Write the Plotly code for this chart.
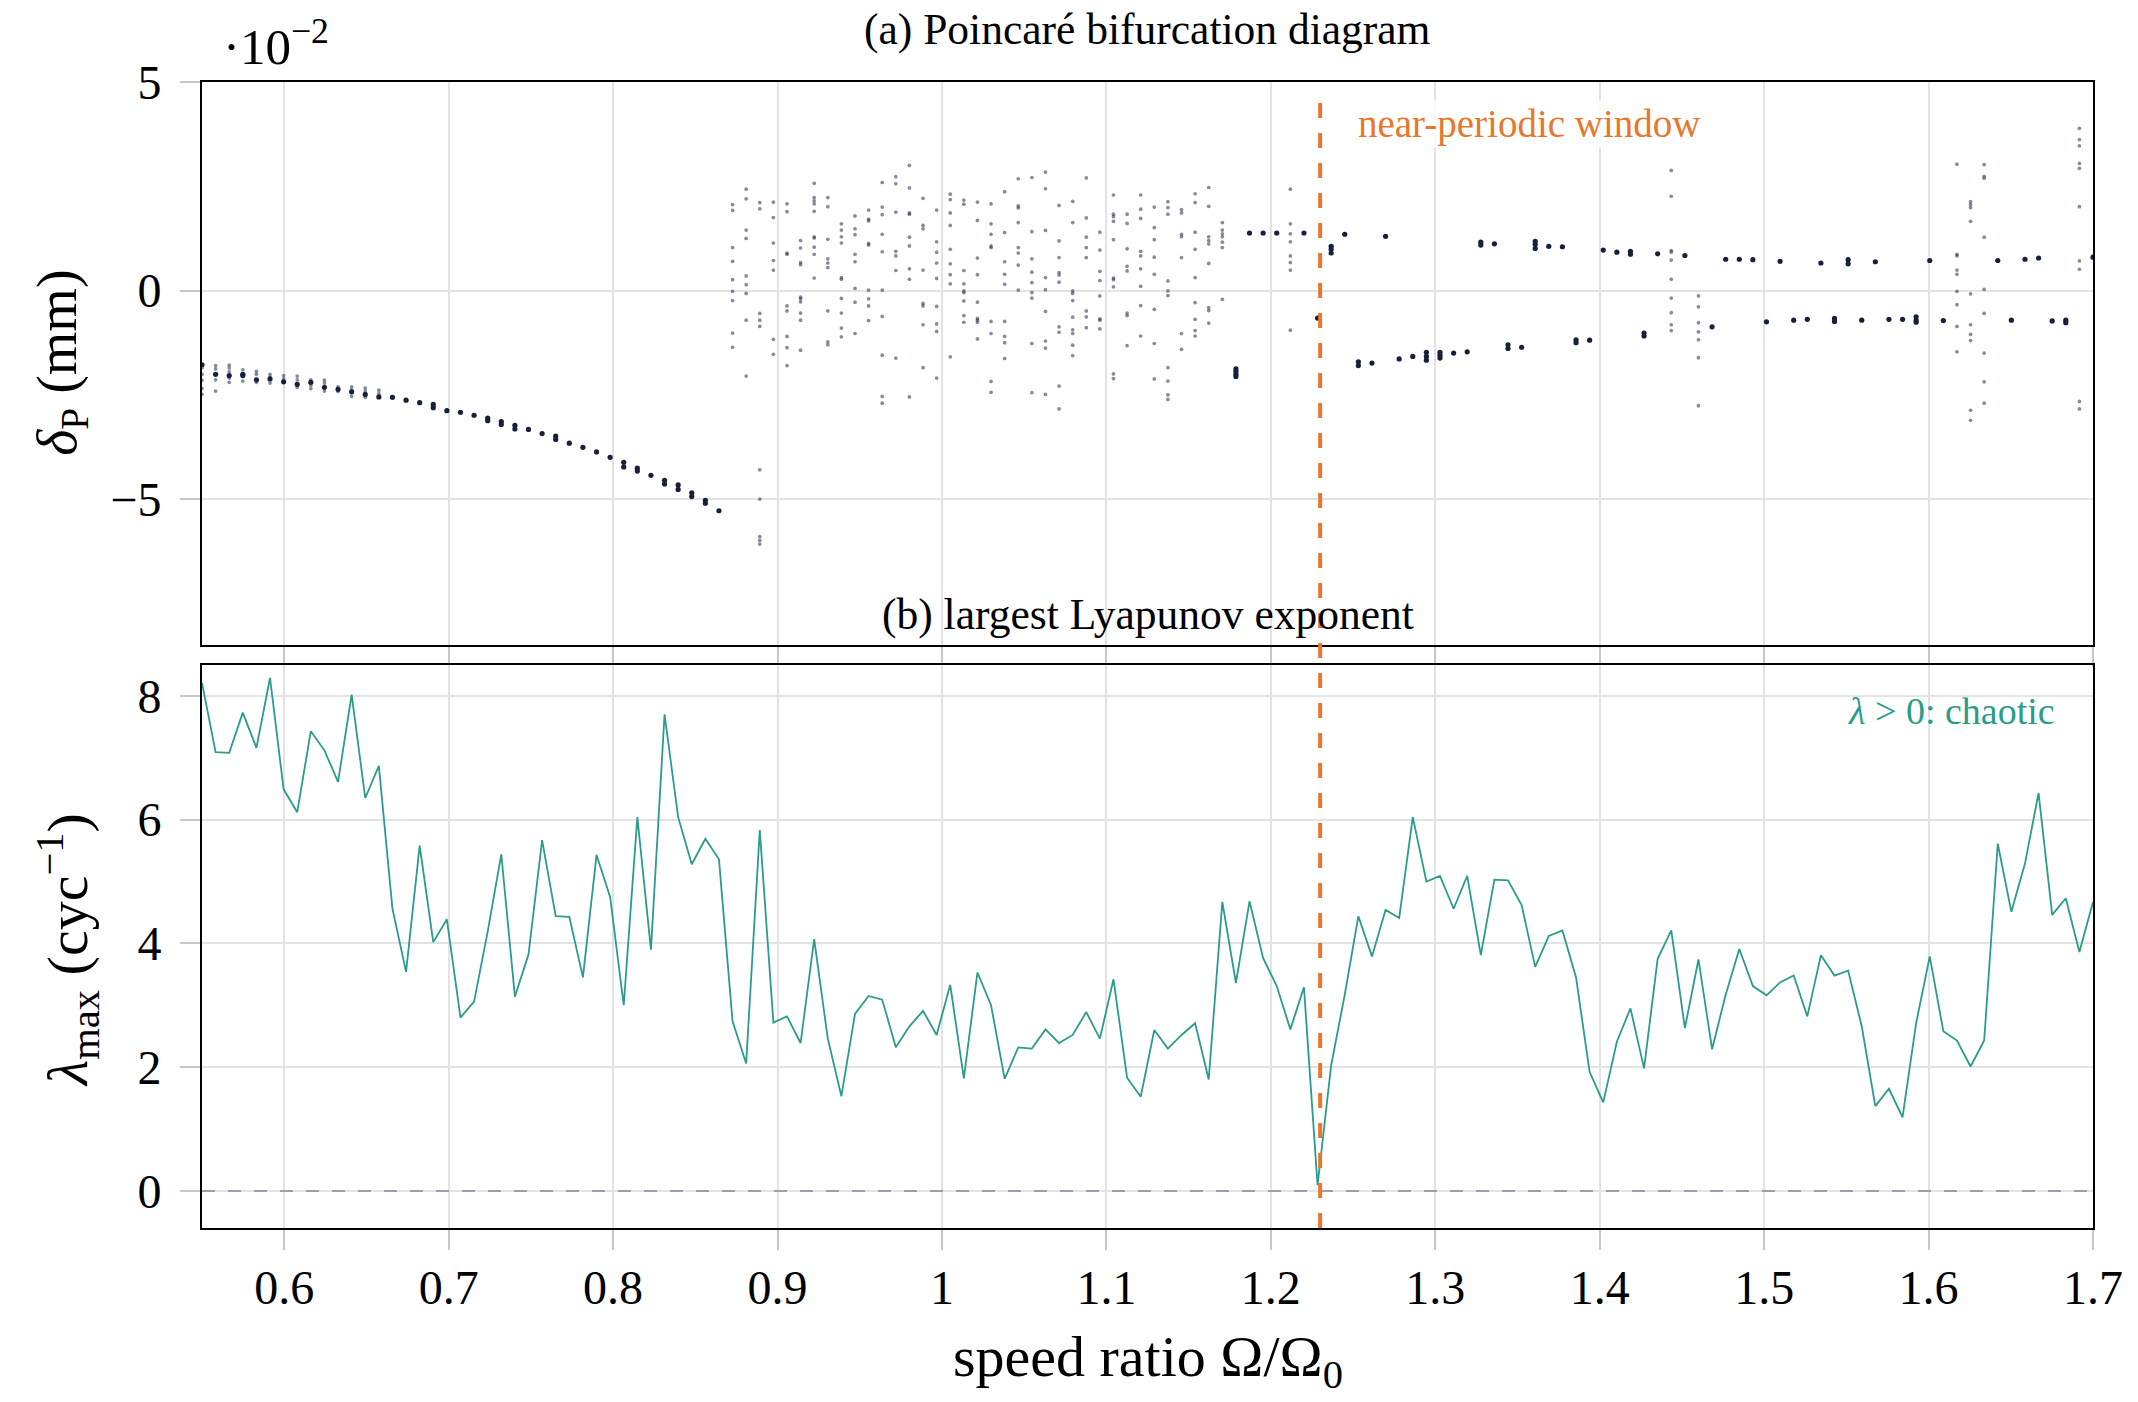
import numpy as np
import plotly.graph_objects as go

# ---------------- data ----------------
# speed-ratio sweep (140 samples from 0.55 to 1.70)
speed_ratio = np.linspace(0.55, 1.70, 140)

# largest Lyapunov exponent (cyc^-1) at each sweep sample
lyap_max = [
    8.21, 7.09, 7.08, 7.73, 7.16, 8.29, 6.49, 6.12, 7.43, 7.12,
    6.61, 8.02, 6.35, 6.87, 4.56, 3.54, 5.58, 4.02, 4.39, 2.80,
    3.06, 4.19, 5.44, 3.14, 3.82, 5.67, 4.44, 4.43, 3.45, 5.43,
    4.75, 3.00, 6.04, 3.90, 7.70, 6.04, 5.28, 5.69, 5.36, 2.74,
    2.06, 5.83, 2.72, 2.82, 2.39, 4.07, 2.46, 1.53, 2.86, 3.15,
    3.09, 2.32, 2.66, 2.91, 2.52, 3.33, 1.82, 3.53, 3.00, 1.81,
    2.32, 2.30, 2.61, 2.39, 2.52, 2.89, 2.46, 3.42, 1.83, 1.52,
    2.60, 2.30, 2.52, 2.71, 1.80, 4.67, 3.36, 4.68, 3.76, 3.31,
    2.61, 3.29, 0.09, 2.03, 3.17, 4.44, 3.79, 4.54, 4.41, 6.04,
    5.00, 5.09, 4.56, 5.09, 3.81, 5.03, 5.02, 4.62, 3.62, 4.12,
    4.21, 3.45, 1.92, 1.43, 2.41, 2.95, 1.98, 3.75, 4.21, 2.63,
    3.74, 2.29, 3.17, 3.91, 3.31, 3.16, 3.37, 3.48, 2.82, 3.81,
    3.48, 3.56, 2.66, 1.37, 1.65, 1.19, 2.71, 3.79, 2.58, 2.43,
    2.01, 2.43, 5.61, 4.51, 5.29, 6.43, 4.46, 4.73, 3.86, 4.67,
]

# Poincaré returns (units of 1e-2 mm): scattered (single) returns, by sweep index
scatter_cols = list(range(0, 14)) + list(range(39, 76)) + [80, 108, 110, 129, 130, 131, 138]
scatter_vals = [
    [-1.85, -2.01, -2.15, -2.35, -2.49],
    [-1.80, -1.88, -2.14, -2.41],
    [-1.79, -1.86, -1.95, -2.10, -2.20],
    [-1.90, -2.17],
    [-1.94, -2.01, -2.20],
    [-2.01, -2.08, -2.22],
    [-2.04, -2.12],
    [-2.05, -2.14, -2.32],
    [-2.14, -2.27, -2.35],
    [-2.15, -2.22, -2.41],
    [-2.31, -2.42],
    [-2.31, -2.38, -2.54],
    [-2.34, -2.41, -2.56],
    [-2.39, -2.47],
    # 39 .. 75
    [2.06, 1.92, 1.03, 0.70, 0.26, -0.02, -0.24, -1.02, -1.36],
    [2.43, 2.20, 1.45, 1.25, 0.35, 0.14, -0.07, -0.71, -2.05],
    [2.11, 1.96, -0.55, -0.71, -0.86, -4.30, -5.00, -5.90, -5.99, -6.08],
    [2.12, 1.75, 1.14, 0.72, 0.49, -1.17, -1.53],
    [2.08, 1.89, 0.90, 0.87, -0.37, -0.49, -1.10, -1.37, -1.80],
    [1.20, 1.02, 0.67, 0.62, -0.16, -0.20, -0.27, -0.54, -0.71, -1.43],
    [2.57, 2.23, 2.15, 2.08, 1.90, 1.29, 1.26, 1.04, 0.87, 0.30],
    [2.23, 2.01, 1.23, 0.76, 0.66, 0.55, -0.49, -1.23, -1.30],
    [1.60, 1.45, 1.29, 1.14, 0.31, 0.27, -0.19, -0.54, -0.90, -1.11],
    [1.79, 1.48, 1.34, 0.87, 0.69, 0.05, -0.28, -1.03],
    [1.93, 1.71, 1.67, 1.13, 1.09, 0.01, -0.20, -0.37, -0.72],
    [2.59, 2.00, 1.82, 1.35, 0.93, 0.01, -0.62, -1.55, -2.54, -2.70],
    [2.73, 2.56, 1.88, 0.94, 0.83, 0.48, -1.62],
    [3.00, 2.46, 1.86, 1.83, 1.28, 1.07, 0.52, 0.27, -2.55],
    [2.21, 1.56, 1.48, 0.49, -0.31, -0.37, -0.82, -1.85],
    [1.93, 1.17, 0.92, 0.66, 0.29, -0.38, -0.80, -0.98, -2.10],
    [2.31, 2.18, 1.86, 1.56, 0.99, 0.64, 0.38, 0.16, -1.59],
    [2.17, 2.07, 0.48, 0.16, -0.01, -0.05, -0.25, -0.60, -0.76],
    [2.12, 1.68, 0.78, 0.38, -0.28, -0.67, -0.71, -0.76, -1.16],
    [2.08, 1.60, 1.35, 1.07, 1.03, -0.74, -1.03, -2.18, -2.44],
    [2.37, 1.39, 0.69, 0.39, 0.15, -0.74, -1.10, -1.25, -1.63],
    [2.68, 2.03, 1.98, 1.63, 1.03, 0.90, 0.61, 0.01],
    [2.71, 1.41, 0.76, 0.44, 0.19, -0.05, -0.18, -1.27, -2.45],
    [2.84, 2.44, 1.44, 0.31, 0.02, -0.50, -1.21, -1.38, -2.49],
    [2.04, 1.19, 0.79, 0.43, 0.37, 0.20, -0.87, -1.00, -2.29, -2.84],
    [2.14, 1.63, -0.01, -0.07, -0.24, -0.64, -0.94, -1.03, -1.31, -1.56],
    [2.70, 1.74, 1.28, 1.03, 0.79, -0.49, -0.63, -0.89],
    [1.40, 0.97, 0.46, 0.24, -0.13, -0.68, -0.71, -0.92],
    [2.29, 1.83, 1.77, 1.66, 1.22, 0.30, 0.26, 0.09, -2.00, -2.11],
    [1.83, 1.61, 1.00, 0.58, 0.47, -0.54, -0.60, -1.32],
    [2.29, 1.95, 1.73, 0.94, 0.83, 0.52, 0.10, -0.36, -1.09],
    [2.00, 1.51, 1.22, 0.80, 0.39, -0.45, -1.27, -2.12],
    [2.13, 1.99, 1.83, 0.23, -0.01, -0.12, -1.85, -2.17, -2.50, -2.61],
    [1.94, 1.86, 1.35, 1.29, 0.79, -1.03, -1.41],
    [2.32, 2.11, 1.40, 0.99, 0.31, -0.29, -0.69, -0.96, -1.09],
    [2.47, 2.02, 1.29, 1.20, 1.12, 0.65, -0.41, -0.48, -0.78],
    [1.63, 1.45, 1.36, 1.29, 1.16, 1.03, -0.21],
    # 80, 108, 110, 129, 130, 131, 138
    [2.43, 1.60, 1.36, 1.17, 0.83, 0.67, 0.49, -0.95],
    [2.88, 2.26, 0.96, 0.92, 0.73, 0.27, -0.18, -0.53, -0.82, -0.96],
    [-0.13, -0.39, -0.77, -0.99, -1.18, -1.61, -2.76],
    [3.03, 0.87, 0.83, 0.49, 0.39, -0.02, -0.34, -0.86, -1.47],
    [2.13, 2.06, 1.99, 1.66, -0.08, -0.82, -1.05, -1.20, -2.87, -3.11],
    [3.02, 2.74, 2.69, 1.28, 0.03, -0.55, -1.50, -2.19, -2.70],
    [3.89, 3.62, 3.47, 3.05, 2.93, 2.01, 0.71, 0.51, -2.66, -2.84],
]

# Poincaré returns that settle on a periodic orbit (overlapping returns), by sweep index
settled_cols = (list(range(0, 39)) + [76, 77, 78, 79] + list(range(81, 108)) + [109]
                + list(range(111, 129)) + list(range(132, 138)) + [139])
settled_vals = [
    [-1.78], [-2.01], [-2.04], [-2.01, -2.04], [-2.14], [-2.12], [-2.19], [-2.25],
    [-2.20], [-2.32], [-2.37], [-2.43], [-2.49], [-2.55],
    [-2.56], [-2.63], [-2.69], [-2.73, -2.81], [-2.88], [-2.92], [-2.99],
    [-3.06, -3.12], [-3.14, -3.21], [-3.23, -3.32], [-3.33], [-3.43], [-3.49, -3.57],
    [-3.66], [-3.76], [-3.87], [-4.00], [-4.12, -4.23], [-4.26, -4.33], [-4.43],
    [-4.55, -4.64], [-4.66, -4.77], [-4.85, -4.94], [-5.03, -5.10], [-5.28],
    # 76 .. 79
    [-1.88, -1.94, -2.01, -2.06], [1.38], [1.38], [1.38],
    # 81 .. 107
    [1.38], [-0.66], [1.06, 0.99, 0.90], [1.35], [-1.71, -1.80], [-1.74], [1.30],
    [-1.64], [-1.58], [-1.48, -1.58, -1.67], [-1.48, -1.55, -1.62], [-1.50], [-1.47],
    [1.16, 1.09], [1.12], [-1.30, -1.39], [-1.36], [1.18, 1.11, 1.01], [1.06], [1.05],
    [-1.18, -1.25], [-1.19], [0.97], [0.92], [0.94, 0.87], [-1.02, -1.09], [0.88],
    # 109
    [0.84],
    # 111 .. 128
    [-0.87], [0.75], [0.75], [0.74], [-0.75], [0.70], [-0.71], [-0.69], [0.66],
    [-0.67, -0.74], [0.74, 0.64], [-0.71], [0.69], [-0.69], [-0.69],
    [-0.63, -0.71, -0.76], [0.72], [-0.72],
    # 132 .. 137
    [0.72], [-0.71], [0.75], [0.78], [-0.73], [-0.71, -0.77],
    # 139
    [0.80],
]

x_tick_vals = [0.6, 0.7, 0.8, 0.9, 1.0, 1.1, 1.2, 1.3, 1.4, 1.5, 1.6, 1.7]
x_tick_text = ["0.6", "0.7", "0.8", "0.9", "1", "1.1", "1.2", "1.3", "1.4", "1.5", "1.6", "1.7"]
dp_tick_vals = [-5, 0, 5]
dp_tick_text = ["\u22125", "0", "5"]
lam_tick_vals = [0, 2, 4, 6, 8]
window_ratio = 1.23


# ---------------- figure ----------------
def flatten(cols, vals):
    xs, ys = [], []
    for c, vs in zip(cols, vals):
        for v in vs:
            xs.append(float(speed_ratio[c]))
            ys.append(v)
    return xs, ys


NAVY = "#16203d"
TEAL = "#2a9d8a"
ORANGE = "#e8772e"
FONT = "Liberation Serif"

sx, sy = flatten(scatter_cols, scatter_vals)
px_, py_ = flatten(settled_cols, settled_vals)

fig = go.Figure()
fig.add_trace(go.Scatter(x=sx, y=sy, mode="markers", xaxis="x", yaxis="y",
                         marker=dict(size=3.7, color=NAVY, opacity=0.52, line=dict(width=0)),
                         showlegend=False))
fig.add_trace(go.Scatter(x=px_, y=py_, mode="markers", xaxis="x", yaxis="y",
                         marker=dict(size=5.2, color=NAVY, line=dict(width=0)),
                         showlegend=False))
fig.add_trace(go.Scatter(x=speed_ratio, y=lyap_max, mode="lines", xaxis="x2", yaxis="y2",
                         line=dict(color=TEAL, width=1.8), showlegend=False))

axis_common = dict(
    showline=True, linecolor="black", linewidth=2, mirror=True,
    showgrid=True, gridcolor="#e3e3e6", gridwidth=1.5,
    ticks="outside", ticklen=20, tickwidth=1.5, tickcolor="#c6c6cf",
    zeroline=False, tickfont=dict(family=FONT, size=48, color="black"),
)

top_bottom = 0.5087
bot_top = 0.4913

fig.update_layout(
    width=2138, height=1402,
    margin=dict(l=202, r=45, t=82, b=174),
    paper_bgcolor="white", plot_bgcolor="white",
    font=dict(family=FONT, color="black"),
    xaxis=dict(domain=[0, 1], anchor="y", range=[0.55, 1.70], tickvals=x_tick_vals,
               showticklabels=False, matches="x2", **axis_common),
    yaxis=dict(domain=[top_bottom, 1], anchor="x", range=[-8.5, 5], tickvals=dp_tick_vals,
               ticktext=dp_tick_text, ticklabelstandoff=9, **axis_common),
    xaxis2=dict(domain=[0, 1], anchor="y2", range=[0.55, 1.70], tickvals=x_tick_vals,
                ticktext=x_tick_text, ticklabelstandoff=-4, **axis_common),
    yaxis2=dict(domain=[0, bot_top], anchor="x2", range=[-0.6, 8.5], tickvals=lam_tick_vals,
                ticklabelstandoff=9, **axis_common),
)

# reference lines
fig.add_shape(type="line", xref="x2 domain", yref="y2", x0=0, x1=1, y0=0, y1=0,
              line=dict(color="#9ca0ad", width=2, dash="13px,13px"))
fig.add_shape(type="line", xref="x2", yref="paper", x0=window_ratio, x1=window_ratio,
              y0=0, y1=0.99, line=dict(color=ORANGE, width=4, dash="15px,15px"))

# annotations
fig.add_annotation(text="(a) Poincaré bifurcation diagram", xref="paper", yref="paper",
                   x=0.5, y=1.0454, xanchor="center", yanchor="middle", showarrow=False,
                   font=dict(family=FONT, size=43.5, color="black"))
fig.add_annotation(text="(b) largest Lyapunov exponent", xref="paper", yref="paper",
                   x=0.5, y=0.535, xanchor="center", yanchor="middle", showarrow=False,
                   font=dict(family=FONT, size=43.5, color="black"))
fig.add_annotation(text="\u00b710<sup>\u22122</sup>", xref="paper", yref="paper",
                   x=0.039, y=1.034, xanchor="center", yanchor="middle", showarrow=False,
                   font=dict(family=FONT, size=51, color="black"))
fig.add_annotation(text="speed ratio \u03a9/\u03a9<sub>0</sub>", xref="paper", yref="paper",
                   x=0.5, y=-0.116, xanchor="center", yanchor="middle", showarrow=False,
                   font=dict(family=FONT, size=58, color="black"))
fig.add_annotation(text="<i>\u03b4</i><sub>P</sub> (mm)", xref="paper", yref="paper",
                   x=-0.0746, y=0.755, xanchor="center", yanchor="middle", showarrow=False,
                   textangle=-90, font=dict(family=FONT, size=56, color="black"))
fig.add_annotation(text="<i>\u03bb</i><sub>max</sub> (cyc<sup>\u22121</sup>)", xref="paper",
                   yref="paper", x=-0.0709, y=0.2426, xanchor="center", yanchor="middle",
                   showarrow=False, textangle=-90,
                   font=dict(family=FONT, size=58, color="black"))
fig.add_annotation(text="near-periodic window", xref="x", yref="y", x=1.252, y=4.0,
                   xanchor="left", yanchor="middle", showarrow=False,
                   bgcolor="rgba(255,255,255,0.8)",
                   font=dict(family=FONT, size=39, color=ORANGE))
fig.add_annotation(text="<i>\u03bb</i> &gt; 0: chaotic", xref="x2", yref="y2", x=1.678, y=7.75,
                   xanchor="right", yanchor="middle", showarrow=False,
                   font=dict(family=FONT, size=38, color=TEAL))

fig.write_html("out.html")
